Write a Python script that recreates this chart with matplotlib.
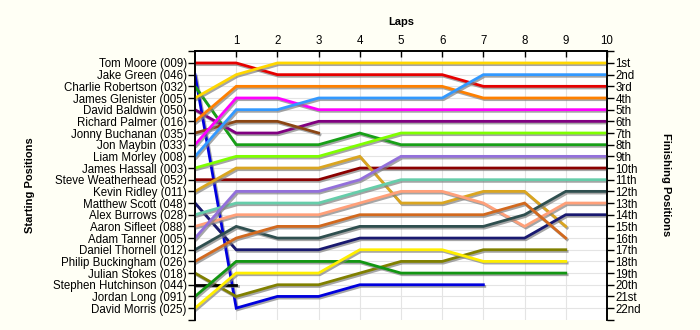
import matplotlib
matplotlib.use("Agg")
import matplotlib.pyplot as plt
import matplotlib.patheffects as pe

plt.rcParams['font.family'] = ['Liberation Sans', 'DejaVu Sans']

# starting grid (label order = starting position)
drivers = ["Tom Moore (009)", "Jake Green (046)", "Charlie Robertson (032)",
           "James Glenister (005)", "David Baldwin (050)", "Richard Palmer (016)",
           "Jonny Buchanan (035)", "Jon Maybin (033)", "Liam Morley (008)",
           "James Hassall (003)", "Steve Weatherhead (052)", "Kevin Ridley (011)",
           "Matthew Scott (048)", "Alex Burrows (028)", "Aaron Sifleet (088)",
           "Adam Tanner (005)", "Daniel Thornell (012)", "Philip Buckingham (026)",
           "Julian Stokes (018)", "Stephen Hutchinson (044)", "Jordan Long (091)",
           "David Morris (025)"]

finish_labels = ["1st", "2nd", "3rd", "4th", "5th", "6th", "7th", "8th", "9th",
                 "10th", "11th", "12th", "13th", "14th", "15th", "16th", "17th",
                 "18th", "19th", "20th", "21st", "22nd"]

laps = [1, 2, 3, 4, 5, 6, 7, 8, 9, 10]

# position at each lap (index 0 = start)
tom_moore = [1, 1, 2, 2, 2, 2, 2, 3, 3, 3, 3]
jake_green = [2, 22, 21, 21, 20, 20, 20, 20]
charlie_robertson = [3, 8, 8, 8, 7, 8, 8, 8, 8, 8, 8]
james_glenister = [4, 2, 1, 1, 1, 1, 1, 1, 1, 1, 1]
david_baldwin = [5, 7, 7, 6, 6, 6, 6, 6, 6, 6, 6]
richard_palmer = [6, 3, 3, 3, 3, 3, 3, 4, 4, 4, 4]
jonny_buchanan = [7, 6, 6, 7]
jon_maybin = [8, 4, 4, 5, 5, 5, 5, 5, 5, 5, 5]
liam_morley = [9, 5, 5, 4, 4, 4, 4, 2, 2, 2, 2]
james_hassall = [10, 9, 9, 9, 8, 7, 7, 7, 7, 7, 7]
steve_weatherhead = [11, 11, 11, 11, 10, 10, 10, 10, 10, 10, 10]
kevin_ridley = [12, 10, 10, 10, 9, 13, 13, 12, 12, 15]
matthew_scott = [13, 17, 17, 17, 16, 16, 16, 16, 16, 14, 14]
alex_burrows = [14, 13, 13, 13, 12, 11, 11, 11, 11, 11, 11]
aaron_sifleet = [15, 14, 14, 14, 13, 12, 12, 13, 15, 13, 13]
adam_tanner = [16, 12, 12, 12, 11, 9, 9, 9, 9, 9, 9]
daniel_thornell = [17, 15, 16, 16, 15, 15, 15, 15, 14, 12, 12]
philip_buckingham = [18, 16, 15, 15, 14, 14, 14, 14, 13, 16]
julian_stokes = [19, 21, 20, 20, 19, 18, 18, 17, 17, 17]
stephen_hutchinson = [20, 20]
jordan_long = [21, 18, 18, 18, 18, 19, 19, 19, 19, 19]
david_morris = [22, 19, 19, 19, 17, 17, 17, 18, 18, 18]

positions = [tom_moore, jake_green, charlie_robertson, james_glenister,
             david_baldwin, richard_palmer, jonny_buchanan, jon_maybin,
             liam_morley, james_hassall, steve_weatherhead, kevin_ridley,
             matthew_scott, alex_burrows, aaron_sifleet, adam_tanner,
             daniel_thornell, philip_buckingham, julian_stokes,
             stephen_hutchinson, jordan_long, david_morris]

colors = ["#E60000", "#0000DD", "#18A018", "#FFD700", "#800080", "#FF8000",
          "#8B4513", "#FF00FF", "#3399FF", "#7FFF00", "#8B0000", "#DAA520",
          "#191970", "#66CDAA", "#FFA07A", "#9370DB", "#2F4F4F", "#D2691E",
          "#808000", "#000000", "#129612", "#FFEE00"]

fig = plt.figure(figsize=(7, 3.3), dpi=100, facecolor="#FFFFF5")
ax = fig.add_axes([0.2786, 0.031, 0.5885, 0.8135])
ax.set_facecolor("white")

shadow = [pe.SimpleLineShadow(offset=(1, -1.2), shadow_color="gray", alpha=0.7),
          pe.Normal()]

for pos, col in zip(positions, colors):
    ax.plot(range(len(pos)), pos, color=col, lw=2, solid_joinstyle="miter",
            path_effects=shadow, zorder=3)

ax.set_xlim(0, 10)
ax.set_ylim(23, 0)

# grid
for lap in laps:
    ax.axvline(lap, color="#E4E4E4", lw=0.8, zorder=1)
for p in range(1, 23):
    ax.axhline(p, color="#E4E4E4", lw=0.8, zorder=1)

ax.xaxis.tick_top()
ax.set_xticks(laps)
ax.set_xticklabels([str(l) for l in laps], fontsize=8.3)
ax.tick_params(axis="x", direction="in", length=4, width=1, pad=3)

ax.set_yticks(range(0, 24))
ax.set_yticklabels([""] + drivers + [""], fontsize=8.3)
ax.tick_params(axis="y", direction="out", length=5, width=1, pad=1,
               left=True, right=True)

ax2 = ax.twinx()
ax2.set_ylim(23, 0)
ax2.set_yticks(range(0, 24))
ax2.set_yticklabels([""] + finish_labels + [""], fontsize=8.3)
ax2.tick_params(axis="y", direction="out", length=5, width=1, pad=1)

for a in (ax, ax2):
    a.spines["bottom"].set_visible(False)
    for s in ("left", "right", "top"):
        a.spines[s].set_linewidth(1.2)

fig.text(0.573, 0.933, "Laps", fontsize=8, fontweight="bold",
         ha="center", va="center")
fig.text(0.043, 0.44, "Starting Positions", fontsize=8, fontweight="bold",
         rotation=90, ha="center", va="center")
fig.text(0.951, 0.44, "Finishing Positions", fontsize=8, fontweight="bold",
         rotation=270, ha="center", va="center")

fig.savefig("out.png", dpi=100, facecolor=fig.get_facecolor())
